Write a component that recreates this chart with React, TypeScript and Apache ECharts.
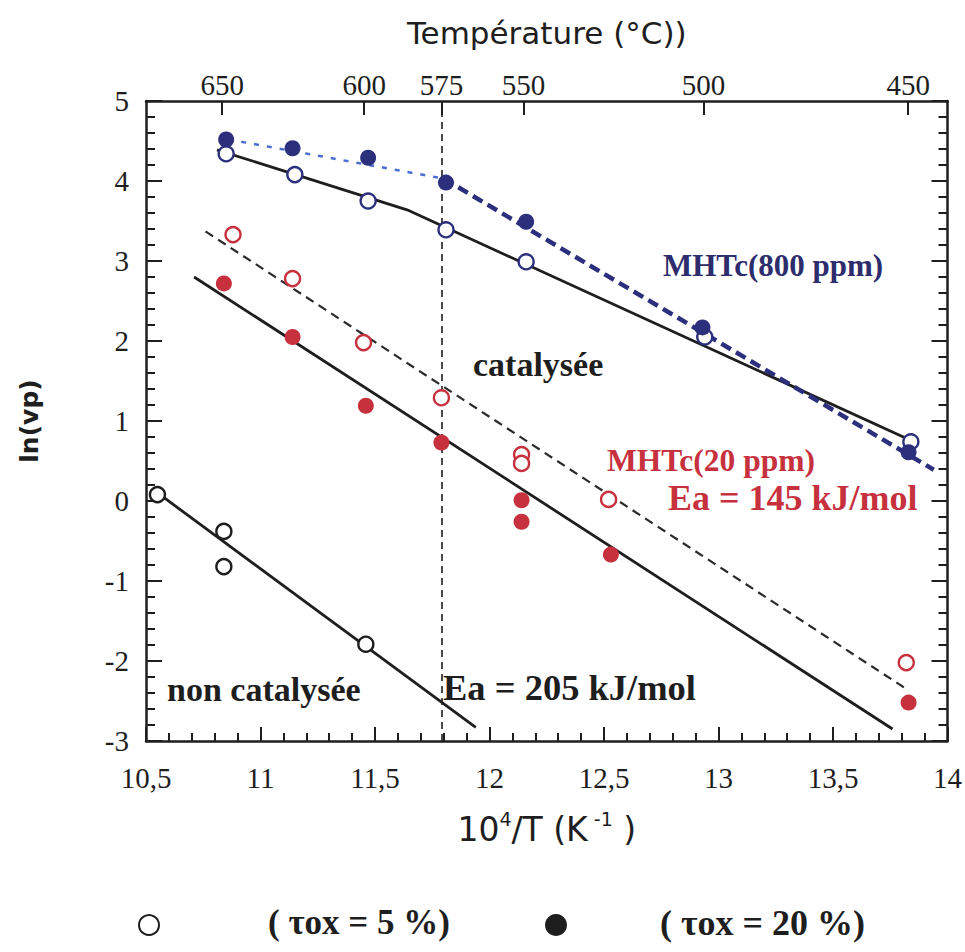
import { useEffect, useRef } from 'react';
import * as echarts from 'echarts';

// ---- axes ----
const xMin = 10.5;
const xMax = 14;
const xStep = 0.5;
const yMin = -3;
const yMax = 5;
const yStep = 1;
const topTemps = [650, 600, 575, 550, 500, 450]; // °C, top axis
const transitionTemp = 575; // °C, vertical dashed line

// ---- measured points (x = 10^4/T, y = ln(vp)) ----
const blue800_tox20 = [[10.85, 4.52], [11.14, 4.41], [11.47, 4.29], [11.81, 3.98], [12.16, 3.49], [12.93, 2.17], [13.83, 0.61]];
const blue800_tox5 = [[10.85, 4.34], [11.15, 4.08], [11.47, 3.75], [11.81, 3.39], [12.16, 2.99], [12.94, 2.05], [13.84, 0.74]];
const red20_tox5 = [[10.88, 3.33], [11.14, 2.78], [11.45, 1.98], [11.79, 1.29], [12.14, 0.58], [12.14, 0.47], [12.52, 0.02], [13.82, -2.02]];
const red20_tox20 = [[10.84, 2.72], [11.14, 2.05], [11.46, 1.19], [11.79, 0.73], [12.14, 0.01], [12.14, -0.26], [12.53, -0.67], [13.83, -2.52]];
const nonCat_tox5 = [[10.55, 0.08], [10.84, -0.38], [10.84, -0.82], [11.46, -1.79]];

// ---- fitted lines ----
const fitBlue5 = [[10.81, 4.39], [11.64, 3.64], [13.86, 0.73]];
const fitBlue20a = [[10.86, 4.52], [11.8, 4.03]];
const fitBlue20b = [[11.8, 4.03], [13.94, 0.39]];
const fitRed5 = [[10.76, 3.37], [13.81, -2.33]];
const fitRed20 = [[10.71, 2.8], [13.76, -2.85]];
const fitNonCat = [[10.57, 0.06], [11.94, -2.83]];

const SERIF = 'Liberation Serif';
const SANS = 'DejaVu Sans';
const NAVY = '#2c2f7c';
const NAVY_TXT = '#2d2c6c';
const BLUE_LIGHT = '#4a6ed2';
const RED = '#c7313e';
const INK = '#1e1e1e';

export default function App() {
  const ref = useRef<HTMLDivElement>(null);

  useEffect(() => {
    const chart = echarts.init(ref.current!, null, { renderer: 'svg' });
    const topTickX = topTemps.map((t) => 1e4 / (t + 273.15));
    const transitionX = 1e4 / (transitionTemp + 273.15);
    const comma = (v: number) => String(v).replace('.', ',');

    const scatter = (name: string, data: number[][], color: string, filled: boolean) => ({
      type: 'scatter',
      name,
      data,
      symbol: 'circle',
      symbolSize: filled ? 16 : 15,
      itemStyle: filled
        ? { color, opacity: 1 }
        : { color: '#ffffff', borderColor: color, borderWidth: 2.4, opacity: 1 },
      z: 5,
      silent: true,
    });
    const line = (name: string, data: number[][], color: string, width: number, type: any) => ({
      type: 'line',
      name,
      data,
      showSymbol: false,
      symbol: 'none',
      lineStyle: { color, width, type },
      z: 3,
      silent: true,
    });

    const axisLine = { show: true, onZero: false, lineStyle: { color: INK, width: 2.5 } };
    const tickFont = { fontFamily: SERIF, fontSize: 29, color: INK };

    chart.setOption({
      animation: false,
      backgroundColor: '#ffffff',
      grid: { left: 146, right: 16, top: 101, bottom: 211, containLabel: false },
      xAxis: [
        {
          type: 'value',
          position: 'bottom',
          min: xMin,
          max: xMax,
          interval: xStep,
          axisLine,
          axisTick: { show: true, inside: true, length: 14, lineStyle: { color: INK, width: 2 } },
          minorTick: { show: true, splitNumber: 5, length: 8, lineStyle: { color: INK, width: 2 } },
          splitLine: { show: false },
          axisLabel: { show: true, ...tickFont, margin: 22, formatter: (v: number) => comma(v) },
          name: '{a|10}{s|4}{a|/T (K}{s| -1}{a| )}',
          nameLocation: 'middle',
          nameGap: 68,
          nameTextStyle: {
            rich: {
              a: { fontFamily: SANS, fontSize: 33, color: INK, lineHeight: 40 },
              s: { fontFamily: SANS, fontSize: 19, color: INK, verticalAlign: 'top', lineHeight: 40 },
            },
          },
        },
        {
          type: 'value',
          position: 'top',
          min: xMin,
          max: xMax,
          axisLine,
          axisTick: { show: true, inside: true, length: 14, customValues: topTickX, lineStyle: { color: INK, width: 2 } },
          minorTick: { show: false },
          splitLine: { show: false },
          axisLabel: {
            show: true,
            ...tickFont,
            margin: 2,
            customValues: topTickX,
            formatter: (v: number) => {
              const i = topTickX.findIndex((x) => Math.abs(x - v) < 1e-6);
              return i >= 0 ? String(topTemps[i]) : '';
            },
          },
          name: 'Température (°C))',
          nameLocation: 'middle',
          nameGap: 53,
          nameTextStyle: { fontFamily: SANS, fontSize: 31, color: INK },
        },
      ],
      yAxis: [
        {
          type: 'value',
          position: 'left',
          min: yMin,
          max: yMax,
          interval: yStep,
          axisLine,
          axisTick: { show: true, inside: true, length: 16, lineStyle: { color: INK, width: 2 } },
          minorTick: { show: true, splitNumber: 5, length: 9, lineStyle: { color: INK, width: 2 } },
          splitLine: { show: false },
          axisLabel: { show: true, ...tickFont, margin: 17 },
          name: 'ln(vp)',
          nameLocation: 'middle',
          nameGap: 104,
          nameRotate: 90,
          nameTextStyle: { fontFamily: SANS, fontSize: 25, color: INK, fontWeight: 'bold' },
        },
        {
          type: 'value',
          position: 'right',
          min: yMin,
          max: yMax,
          interval: yStep,
          axisLine,
          axisTick: { show: true, inside: true, length: 16, lineStyle: { color: INK, width: 2 } },
          minorTick: { show: true, splitNumber: 5, length: 9, lineStyle: { color: INK, width: 2 } },
          splitLine: { show: false },
          axisLabel: { show: false },
        },
      ],
      series: [
        {
          ...line('fit MHTc 800 ppm τox 5 %', fitBlue5, INK, 2.8, 'solid'),
          markLine: {
            silent: true,
            symbol: ['none', 'none'],
            label: { show: false },
            lineStyle: { color: INK, width: 1.6, type: [7, 5] },
            data: [{ xAxis: transitionX }],
          },
        },
        line('fit MHTc 800 ppm τox 20 % (T > 575)', fitBlue20a, BLUE_LIGHT, 2.5, [5, 8]),
        line('fit MHTc 800 ppm τox 20 % (T < 575)', fitBlue20b, NAVY, 4.5, [11, 6]),
        line('fit MHTc 20 ppm τox 5 %', fitRed5, '#2a2a2a', 2.2, [9, 6]),
        line('fit MHTc 20 ppm τox 20 %', fitRed20, INK, 2.8, 'solid'),
        line('fit non catalysée', fitNonCat, INK, 2.8, 'solid'),
        scatter('MHTc 800 ppm, τox = 5 %', blue800_tox5, NAVY, false),
        scatter('MHTc 800 ppm, τox = 20 %', blue800_tox20, NAVY, true),
        scatter('MHTc 20 ppm, τox = 5 %', red20_tox5, RED, false),
        scatter('MHTc 20 ppm, τox = 20 %', red20_tox20, RED, true),
        scatter('non catalysée, τox = 5 %', nonCat_tox5, INK, false),
      ],
      graphic: [
        { type: 'text', left: 663, top: 250, style: { text: 'MHTc(800 ppm)', fontFamily: SERIF, fontWeight: 'bold', fontSize: 31, fill: NAVY_TXT } },
        { type: 'text', left: 473, top: 347, style: { text: 'catalysée', fontFamily: SERIF, fontWeight: 'bold', fontSize: 34, fill: INK } },
        { type: 'text', left: 607, top: 444, style: { text: 'MHTc(20 ppm)', fontFamily: SERIF, fontWeight: 'bold', fontSize: 31.5, fill: RED } },
        { type: 'text', left: 668, top: 480, style: { text: 'Ea = 145 kJ/mol', fontFamily: SERIF, fontWeight: 'bold', fontSize: 36, fill: RED } },
        { type: 'text', left: 167, top: 672, style: { text: 'non catalysée', fontFamily: SERIF, fontWeight: 'bold', fontSize: 34, fill: INK } },
        { type: 'text', left: 443, top: 669, style: { text: 'Ea = 205 kJ/mol', fontFamily: SERIF, fontWeight: 'bold', fontSize: 36.5, fill: INK } },
        // legend
        { type: 'circle', shape: { cx: 149, cy: 925, r: 10 }, style: { fill: '#ffffff', stroke: INK, lineWidth: 2 } },
        { type: 'text', left: 268, top: 905, style: { text: '( τox = 5 %)', fontFamily: SERIF, fontWeight: 'bold', fontSize: 35, fill: INK } },
        { type: 'circle', shape: { cx: 556, cy: 925, r: 11 }, style: { fill: INK } },
        { type: 'text', left: 660, top: 905, style: { text: '( τox = 20 %)', fontFamily: SERIF, fontWeight: 'bold', fontSize: 36, fill: INK } },
      ],
    });

    return () => chart.dispose();
  }, []);

  return <div ref={ref} style={{ position: 'absolute', left: 0, top: 0, width: 965, height: 952 }} />;
}
